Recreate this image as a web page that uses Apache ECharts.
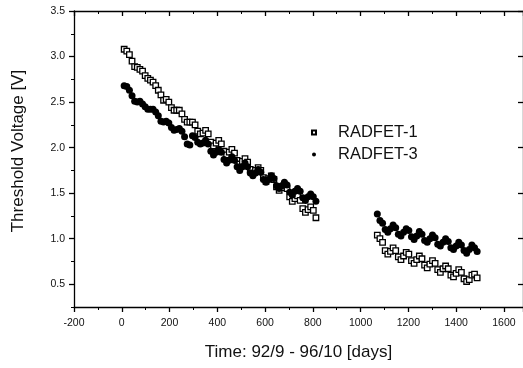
<!DOCTYPE html>
<html>
<head>
<meta charset="utf-8">
<script src="https://cdn.jsdelivr.net/npm/echarts@6/dist/echarts.min.js"></script>
<style>
html,body{margin:0;padding:0;background:#fff;}
#chart{width:523px;height:368px;}
</style>
</head>
<body>
<div id="chart"></div>
<script>
// ---- data ----
const seriesNames = ['RADFET-1', 'RADFET-3'];
const days1 = [10,21,32,43,54,65,76,87,98,109,120,131,142,153,164,175,186,197,208,219,230,241,252,263,274,285,296,307,318,329,340,351,362,373,384,395,406,417,428,439,450,461,472,483,494,505,516,527,538,549,560,571,582,593,604,615,626,637,648,659,670,681,692,703,714,725,736,747,758,769,780,791,802,813];
const r1a = [3.08,3.06,3.02,2.95,2.89,2.88,2.86,2.84,2.79,2.76,
             2.74,2.72,2.68,2.63,2.58,2.52,2.53,2.50,2.44,2.41,
             2.41,2.41,2.37,2.31,2.28,2.28,2.28,2.25,2.18,2.15,
             2.16,2.19,2.15,2.06,2.02,2.05,2.08,2.04,1.96,1.92,
             1.95,1.98,1.94,1.86,1.82,1.85,1.88,1.84,1.76,1.72,
             1.75,1.78,1.75,1.67,1.63,1.66,1.69,1.65,1.57,1.53,
             1.56,1.59,1.55,1.46,1.41,1.44,1.47,1.42,1.33,1.29,
             1.32,1.35,1.31,1.23];
const r3a = [2.68,2.67,2.63,2.57,2.51,2.50,2.51,2.48,2.45,2.42,
             2.42,2.42,2.39,2.35,2.29,2.28,2.29,2.27,2.22,2.19,
             2.20,2.21,2.18,2.12,2.04,2.03,2.13,2.11,2.06,2.04,
             2.05,2.08,2.04,1.96,1.92,1.95,1.98,1.95,1.87,1.83,
             1.86,1.90,1.86,1.79,1.75,1.79,1.83,1.79,1.72,1.69,
             1.72,1.76,1.73,1.65,1.62,1.65,1.69,1.66,1.58,1.55,
             1.58,1.62,1.59,1.51,1.48,1.52,1.55,1.52,1.45,1.42,
             1.46,1.49,1.46,1.41];
const days2 = [1070,1081,1092,1103,1114,1125,1136,1147,1158,1169,1180,1191,1202,1213,1224,1235,1246,1257,1268,1279,1290,1301,1312,1323,1334,1345,1356,1367,1378,1389,1400,1411,1422,1433,1444,1455,1466,1477,1488];
const r1b = [1.04,1.00,0.96,0.87,0.83,0.86,0.90,0.87,0.80,0.77,
             0.81,0.85,0.83,0.76,0.73,0.77,0.81,0.78,0.71,0.68,
             0.72,0.76,0.73,0.66,0.63,0.67,0.70,0.67,0.60,0.58,
             0.62,0.66,0.63,0.56,0.53,0.55,0.60,0.61,0.57];
const r3b = [1.27,1.20,1.17,1.10,1.07,1.11,1.15,1.12,1.05,1.03,
             1.07,1.11,1.09,1.02,0.99,1.03,1.08,1.05,0.98,0.96,
             1.00,1.04,1.01,0.94,0.92,0.96,1.00,0.97,0.90,0.88,
             0.92,0.96,0.93,0.87,0.84,0.88,0.93,0.90,0.86];
const yMajorTicks = [0.5,1.0,1.5,2.0,2.5,3.0,3.5];
const yMinorTicks = [0.25,0.75,1.25,1.75,2.25,2.75,3.25];

// ---- build ----
const pairs = (xs, ys) => xs.map((x, i) => [x, ys[i]]);
const dataR1 = pairs(days1, r1a).concat(pairs(days2, r1b));
const dataR3 = pairs(days1, r3a).concat(pairs(days2, r3b));

const FONT = 'Liberation Sans, Arial, sans-serif';
const lineStyle = {color: '#000', width: 1.3};

const xCommon = {
  type: 'value', min: -200, max: 1680, interval: 200,
  splitLine: {show: false},
  axisLine: {show: true, onZero: false, lineStyle: lineStyle}
};
const yCommon = {
  type: 'value', min: 0.25, max: 3.5, interval: 0.25,
  splitLine: {show: false}
};

const chart = echarts.init(document.getElementById('chart'), null, {renderer: 'canvas'});
chart.setOption({
  backgroundColor: '#fff',
  animation: false,
  textStyle: {fontFamily: FONT},
  grid: {left: 74, top: 11, width: 450, height: 296},
  legend: {
    orient: 'vertical', left: 306, top: 119, itemGap: 5,
    itemWidth: 4, itemHeight: 4,
    data: [{name: seriesNames[0], icon: 'rect'}, {name: seriesNames[1], icon: 'circle'}],
    textStyle: {fontFamily: FONT, fontSize: 16.5, color: '#111', padding: [0, 0, 0, 17]}
  },
  xAxis: [
    Object.assign({}, xCommon, {
      position: 'bottom',
      name: 'Time: 92/9 - 96/10 [days]', nameLocation: 'middle', nameGap: 37,
      nameTextStyle: {fontFamily: FONT, fontSize: 17, color: '#111'},
      axisTick: {show: true, inside: false, length: 5, lineStyle: lineStyle},
      minorTick: {show: true, splitNumber: 2, length: 3, lineStyle: {color: '#000', width: 1}},
      axisLabel: {fontFamily: FONT, fontSize: 10.5, color: '#111', margin: 11,
                  showMaxLabel: false, formatter: v => String(v)}
    }),
    Object.assign({}, xCommon, {
      position: 'top',
      axisTick: {show: true, inside: true, length: 5, lineStyle: lineStyle},
      minorTick: {show: true, splitNumber: 2, length: 3, lineStyle: {color: '#000', width: 1}},
      axisLabel: {show: false}
    })
  ],
  yAxis: [
    Object.assign({}, yCommon, {
      position: 'left',
      axisLine: {show: true, onZero: false, lineStyle: lineStyle},
      name: 'Threshold Voltage [V]', nameLocation: 'middle', nameGap: 47,
      nameTextStyle: {fontFamily: FONT, fontSize: 17, color: '#111', padding: [0, 0, 0, 16]},
      axisTick: {show: true, inside: false, length: 5, customValues: yMajorTicks, lineStyle: lineStyle},
      axisLabel: {customValues: yMajorTicks, fontFamily: FONT, fontSize: 10.5, color: '#111', margin: 9,
                  formatter: v => v.toFixed(1)}
    }),
    Object.assign({}, yCommon, {
      position: 'left',
      axisLine: {show: false, onZero: false},
      axisTick: {show: true, inside: false, length: 3, customValues: yMinorTicks, lineStyle: {color: '#000', width: 1}},
      axisLabel: {show: false}
    }),
    Object.assign({}, yCommon, {
      position: 'right',
      axisLine: {show: true, onZero: false, lineStyle: lineStyle},
      axisTick: {show: true, inside: true, length: 5, customValues: yMajorTicks, lineStyle: lineStyle},
      axisLabel: {show: false}
    })
  ],
  series: [
    {
      name: seriesNames[0], type: 'scatter', xAxisIndex: 0, yAxisIndex: 0,
      symbol: 'rect', symbolSize: 5.5,
      itemStyle: {color: '#fff', borderColor: '#000', borderWidth: 1.3, opacity: 1},
      data: dataR1
    },
    {
      name: seriesNames[1], type: 'scatter', xAxisIndex: 0, yAxisIndex: 0,
      symbol: 'circle', symbolSize: 7,
      itemStyle: {color: '#000', opacity: 1},
      data: dataR3
    }
  ]
});
</script>
</body>
</html>
